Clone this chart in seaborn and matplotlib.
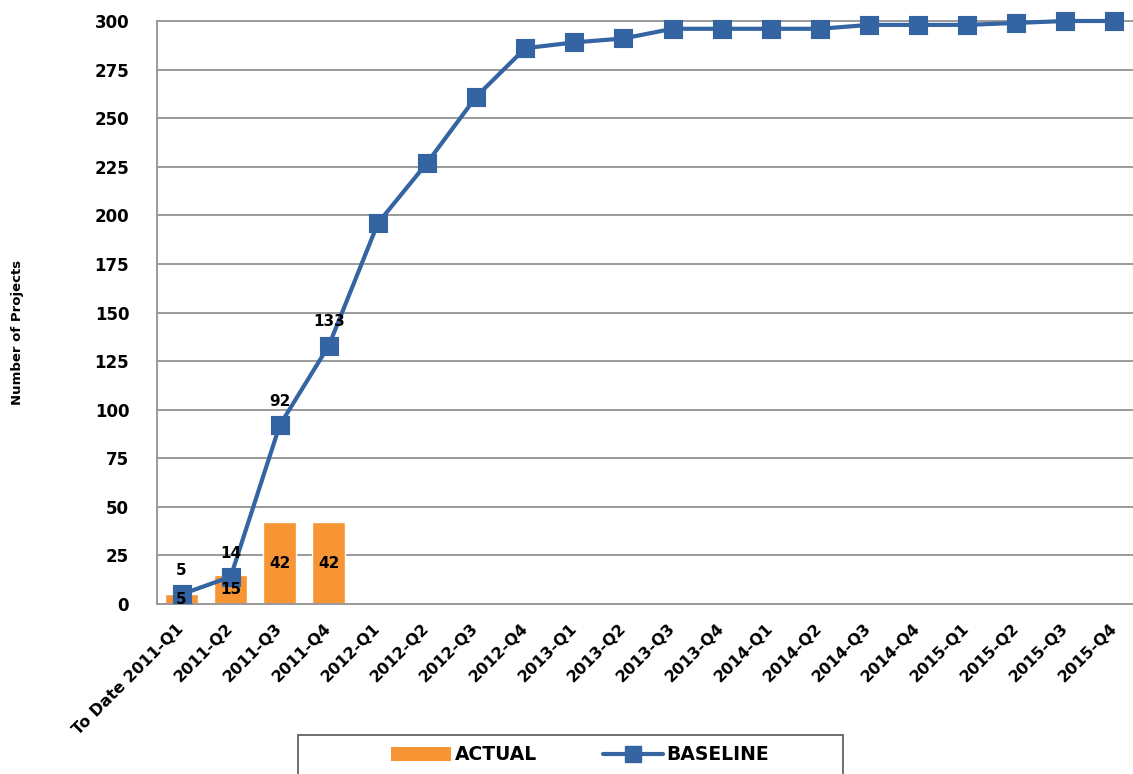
import matplotlib
matplotlib.use("Agg")
import matplotlib.pyplot as plt
from matplotlib.patches import Rectangle
from matplotlib.lines import Line2D
import seaborn as sns
import numpy as np

# chart data
quarters = ["To Date 2011-Q1", "2011-Q2", "2011-Q3", "2011-Q4",
            "2012-Q1", "2012-Q2", "2012-Q3", "2012-Q4",
            "2013-Q1", "2013-Q2", "2013-Q3", "2013-Q4",
            "2014-Q1", "2014-Q2", "2014-Q3", "2014-Q4",
            "2015-Q1", "2015-Q2", "2015-Q3", "2015-Q4"]
actual = [5, 15, 42, 42]
baseline = [5, 14, 92, 133, 196, 227, 261, 286, 289, 291,
            296, 296, 296, 296, 298, 298, 298, 299, 300, 300]
baseline_labelled = 4  # only the first points carry a value label

ORANGE = "#F79433"
BLUE = "#3465A2"
GRID = "#9a9a9a"

sns.set_style("white")
plt.rcParams["font.family"] = ["DejaVu Sans"]
plt.rcParams["text.color"] = "black"
plt.rcParams["xtick.color"] = "black"
plt.rcParams["ytick.color"] = "black"

W, H = 1133, 774
fig = plt.figure(figsize=(W / 100, H / 100), dpi=100)
ax = fig.add_axes([157 / W, (H - 604) / H, (1139 - 157) / W, (604 - 21) / H])

# bars (ACTUAL)
sns.barplot(x=quarters[:len(actual)], y=actual, order=quarters,
            color=ORANGE, saturation=1, width=0.67, ax=ax, zorder=2)
for cont in ax.containers:
    labels = ax.bar_label(cont, label_type="center", fontsize=11,
                          fontweight="bold", color="black")
    for t in labels:
        t.set_zorder(6)

# line (BASELINE)
sns.pointplot(x=quarters, y=baseline, order=quarters, color=BLUE,
              marker="s", markersize=11, linewidth=3, errorbar=None,
              ax=ax, zorder=3)
for ln in ax.lines:
    ln.set_clip_on(False)
for i in range(baseline_labelled):
    ax.annotate(str(baseline[i]), (i, baseline[i]), xytext=(0, 17),
                textcoords="offset points", ha="center", va="center",
                fontsize=11, fontweight="bold", color="black", zorder=6)

ax.set_xlim(-0.5, len(quarters) - 0.5)
ax.set_ylim(0, 300)
ax.set_yticks(np.arange(0, 301, 25))
ax.yaxis.grid(True, color=GRID, linewidth=1.4, zorder=0)
ax.xaxis.grid(False)
ax.set_axisbelow(True)
for gl in ax.get_ygridlines():
    gl.set_clip_on(False)

for s in ["top", "right"]:
    ax.spines[s].set_visible(False)
for s in ["left", "bottom"]:
    ax.spines[s].set_color(GRID)
    ax.spines[s].set_linewidth(1.4)

ax.tick_params(axis="y", which="major", direction="out", length=6,
               width=1.4, color=GRID, labelcolor="black", pad=14, labelsize=12)
for lab in ax.get_yticklabels():
    lab.set_fontweight("bold")

# category boundary ticks like the spreadsheet axis
ax.set_xticks(np.arange(-0.5, len(quarters), 1.0), minor=True)
ax.tick_params(axis="x", which="minor", direction="out", length=6,
               width=1.4, color=GRID)
ax.set_xticks(range(len(quarters)))
ax.set_xticklabels(quarters, rotation=45, ha="right", va="center",
                   rotation_mode="anchor", fontsize=11.5, fontweight="bold",
                   color="black")
ax.tick_params(axis="x", which="major", length=0, pad=16)

ax.set_xlabel("")
ax.set_ylabel("")
fig.text(18 / W, (H - 332) / H, "Number of Projects", rotation=90,
         ha="center", va="center", fontsize=9.5, fontweight="bold",
         color="black")

# legend below the plot, framed box running off the bottom edge
handles = [Rectangle((0, 0), 1, 1, facecolor=ORANGE, edgecolor="none"),
           Line2D([], [], color=BLUE, marker="s", markersize=11, linewidth=3)]
leg = fig.legend(handles, ["ACTUAL", "BASELINE"], loc="center",
                 bbox_to_anchor=(580 / W, (H - 755) / H), ncol=2,
                 frameon=False, prop={"weight": "bold", "size": 13.5},
                 handlelength=3.2, handletextpad=0.2, columnspacing=3.5)
for t in leg.get_texts():
    t.set_color("black")
fig.patches.append(Rectangle((298 / W, -0.02), (843 - 298) / W,
                             (H - 735) / H + 0.02, transform=fig.transFigure,
                             fill=False, edgecolor="#555555", linewidth=1.2))

fig.savefig("out.png", dpi=100)
